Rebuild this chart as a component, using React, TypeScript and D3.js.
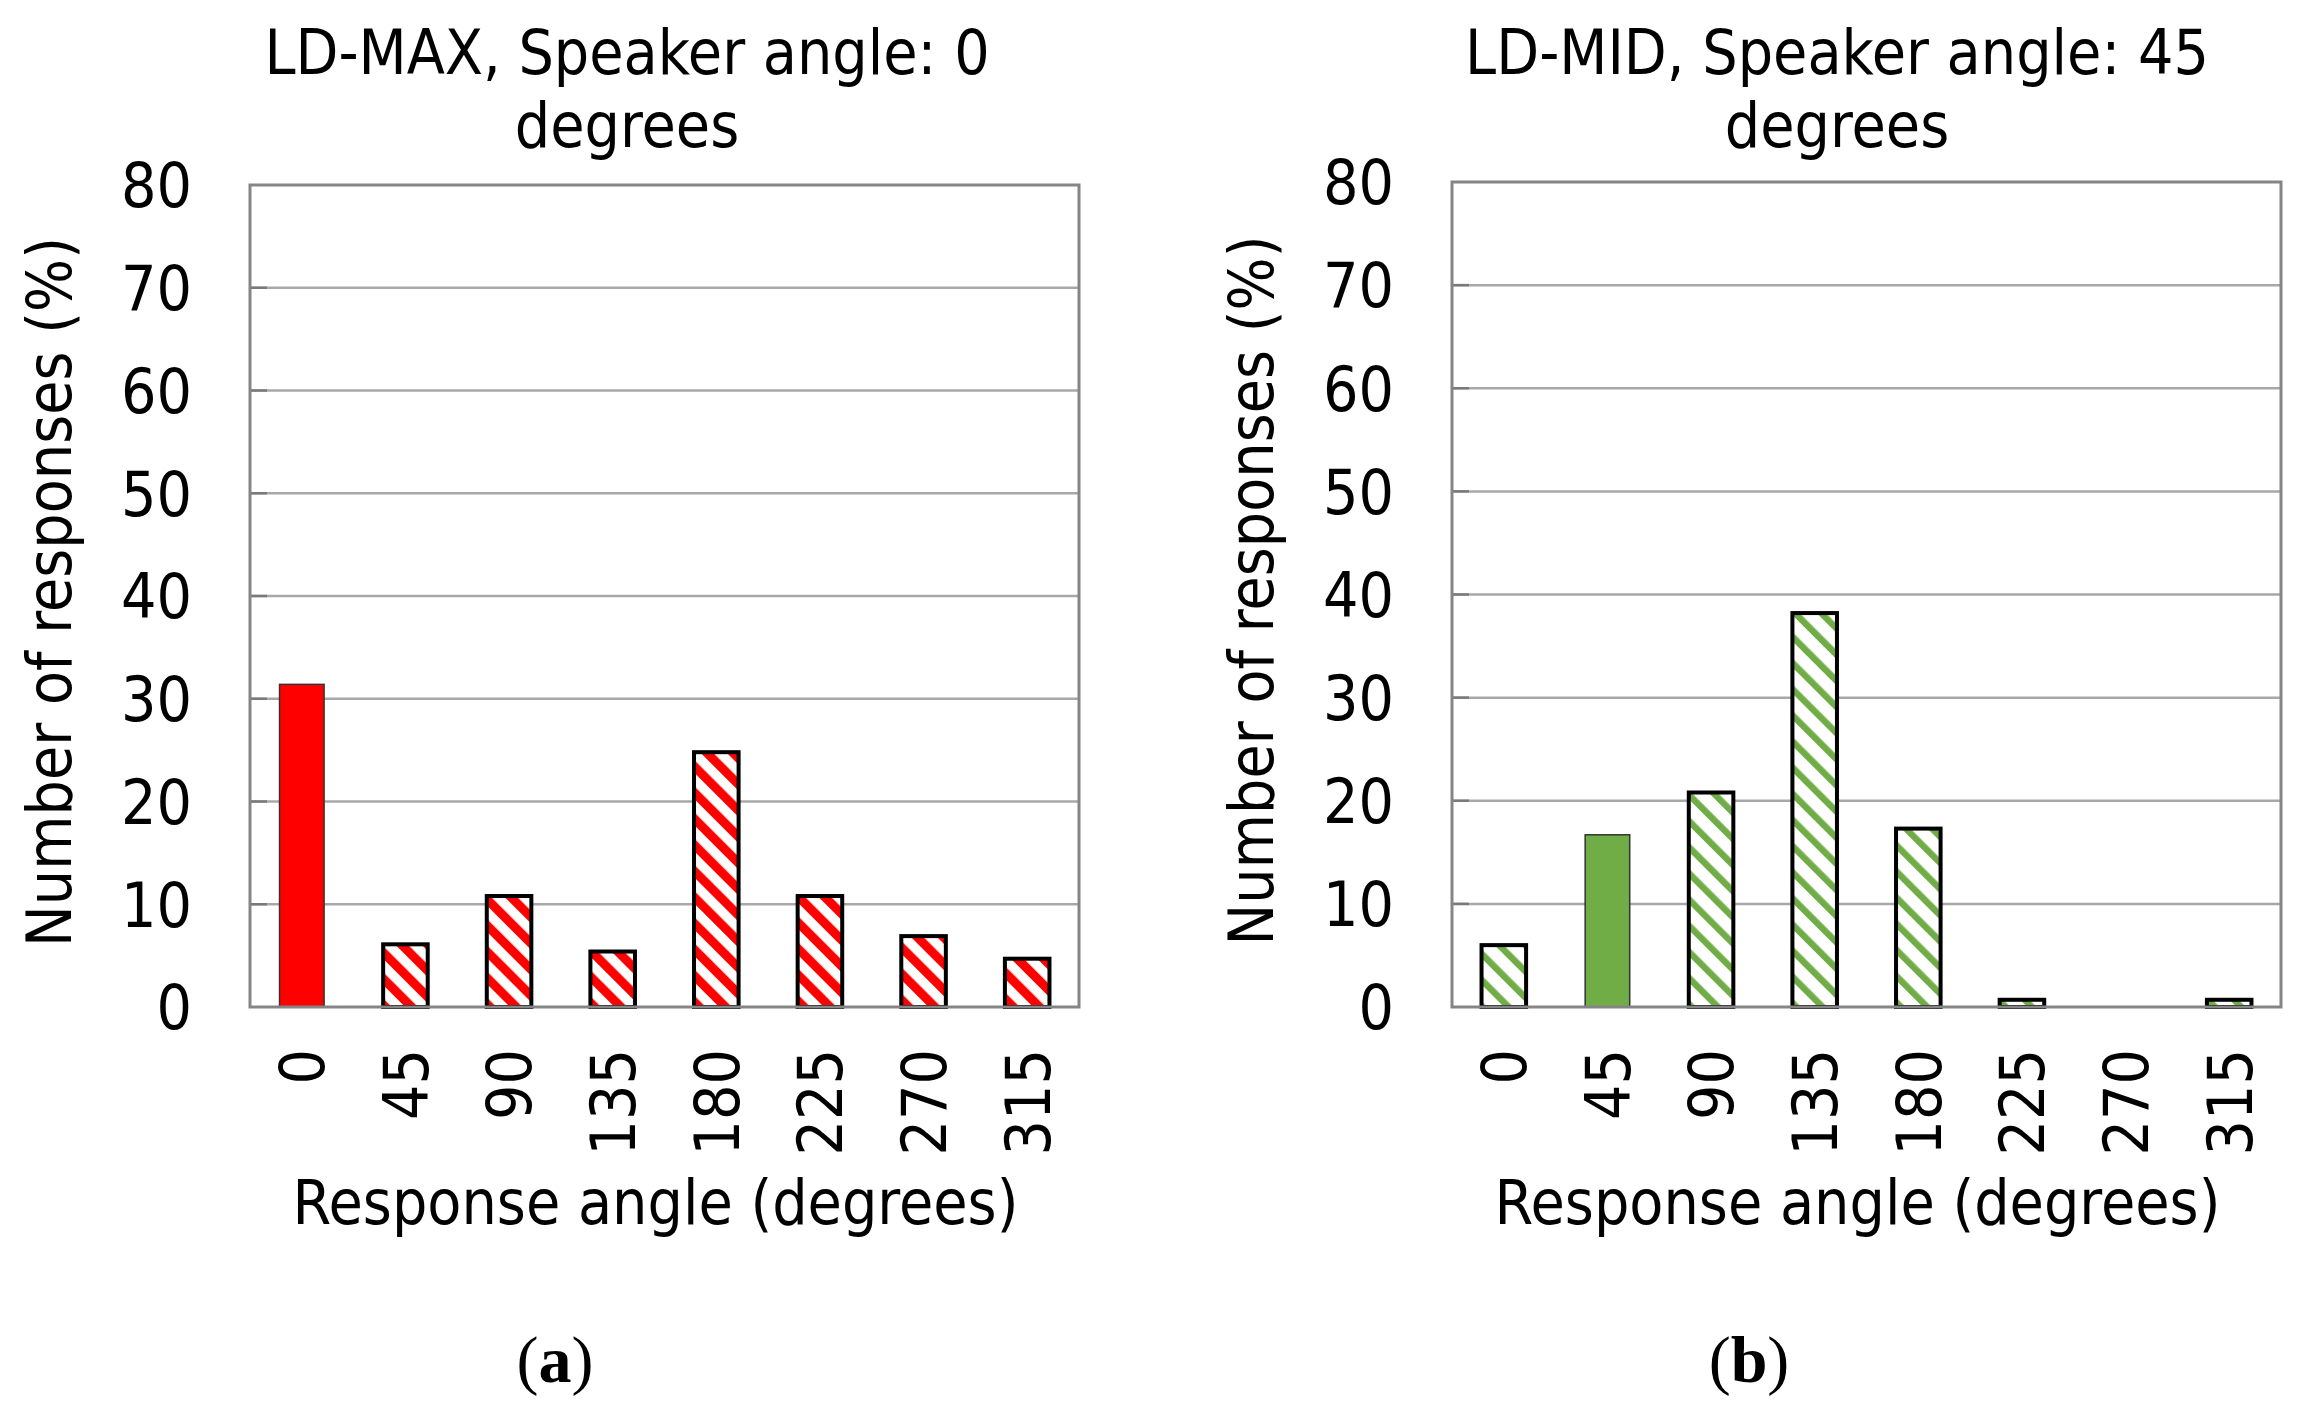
import React from "react";
import * as d3 from "d3";

const categories = ["0", "45", "90", "135", "180", "225", "270", "315"];
const valuesA = [31.4, 6.1, 10.8, 5.4, 24.8, 10.8, 6.9, 4.7];
const valuesB = [6.0, 16.7, 20.8, 38.2, 17.3, 0.7, 0, 0.7];
const solidA = "0";
const solidB = "45";
const titleA = ["LD-MAX, Speaker angle: 0", "degrees"];
const titleB = ["LD-MID, Speaker angle: 45", "degrees"];
const yTicks = [0, 10, 20, 30, 40, 50, 60, 70, 80];
const xLabel = "Response angle (degrees)";
const yLabel = "Number of responses (%)";

const FONT = '"DejaVu Sans Condensed", "DejaVu Sans", sans-serif';
const FS = 62;
const PERIOD = 18.5;

type PanelProps = {
  id: string;
  left: number;
  right: number;
  top: number;
  bottom: number;
  values: number[];
  solid: string;
  color: string;
  stripeW: number;
  title: string[];
  titleX: number;
  tag: string;
  tagX: number;
};

function Panel(p: PanelProps) {
  const x = d3
    .scaleBand<string>()
    .domain(categories)
    .range([p.left, p.right])
    .paddingInner(0.57)
    .paddingOuter(0.285);
  const y = d3.scaleLinear().domain([0, 80]).range([p.bottom, p.top]);
  const cx = (p.left + p.right) / 2;
  const cy = (p.top + p.bottom) / 2;
  const patId = `hatch-${p.id}`;
  return (
    <g>
      <defs>
        <pattern
          id={patId}
          patternUnits="userSpaceOnUse"
          width={PERIOD}
          height={PERIOD}
          patternTransform="rotate(-45)"
        >
          <rect x={0} y={0} width={PERIOD} height={PERIOD} fill="#ffffff" />
          <rect x={0} y={0} width={p.stripeW} height={PERIOD} fill={p.color} />
        </pattern>
      </defs>
      {p.title.map((t, i) => (
        <text
          key={i}
          x={p.titleX}
          y={74 + i * 73}
          textAnchor="middle"
          fontFamily={FONT}
          fontSize={FS}
          fill="#000"
        >
          {t}
        </text>
      ))}
      <rect x={p.left} y={p.top} width={p.right - p.left} height={p.bottom - p.top} fill="#fff" />
      {yTicks
        .filter((v) => v > 0 && v < 80)
        .map((v) => (
          <g key={v}>
            <line x1={p.left} x2={p.right} y1={y(v)} y2={y(v)} stroke="#a8a8a8" strokeWidth={2.5} />
            <line x1={p.left} x2={p.left + 17} y1={y(v)} y2={y(v)} stroke="#7a7a7a" strokeWidth={2.5} />
          </g>
        ))}
      {yTicks.map((v) => (
        <text
          key={v}
          x={p.left - 58}
          y={y(v)}
          dy="0.36em"
          textAnchor="end"
          fontFamily={FONT}
          fontSize={FS}
          fill="#000"
        >
          {v}
        </text>
      ))}
      {categories.map((c, i) => {
        const v = p.values[i];
        if (v <= 0) return null;
        const isSolid = c === p.solid;
        const bx = x(c) as number;
        const bw = x.bandwidth();
        const by = y(v);
        return (
          <rect
            key={c}
            x={bx}
            y={by}
            width={bw}
            height={p.bottom - by}
            fill={isSolid ? p.color : `url(#${patId})`}
            stroke={isSolid ? "#333" : "#000"}
            strokeWidth={isSolid ? 1.5 : 4}
          />
        );
      })}
      <rect
        x={p.left}
        y={p.top}
        width={p.right - p.left}
        height={p.bottom - p.top}
        fill="none"
        stroke="#858585"
        strokeWidth={3}
      />
      {categories.map((c) => {
        const tx = (x(c) as number) + x.bandwidth() / 2;
        const ty = p.bottom + 42;
        return (
          <text
            key={c}
            transform={`translate(${tx},${ty}) rotate(-90)`}
            textAnchor="end"
            dy="0.36em"
            fontFamily={FONT}
            fontSize={FS}
            fill="#000"
          >
            {c}
          </text>
        );
      })}
      <text x={cx - 9} y={1224} textAnchor="middle" fontFamily={FONT} fontSize={FS} fill="#000">
        {xLabel}
      </text>
      <text
        transform={`translate(${p.left - 201},${cy - 4}) rotate(-90)`}
        textAnchor="middle"
        dy="0.36em"
        fontFamily={FONT}
        fontSize={FS}
        fill="#000"
      >
        {yLabel}
      </text>
      <text
        x={p.tagX}
        y={1382}
        textAnchor="middle"
        fontFamily='"Liberation Serif", "DejaVu Serif", serif'
        fontSize={66}
        fill="#000"
      >
        <tspan>(</tspan>
        <tspan fontWeight="bold">{p.tag}</tspan>
        <tspan>)</tspan>
      </text>
    </g>
  );
}

export default function App() {
  return (
    <svg
      width={2304}
      height={1412}
      viewBox="0 0 2304 1412"
      style={{ position: "absolute", left: 0, top: 0, background: "#fff", fontStretch: "condensed" }}
    >
      <rect x={0} y={0} width={2304} height={1412} fill="#fff" />
      <Panel
        id="a"
        left={250}
        right={1079}
        top={185}
        bottom={1007}
        values={valuesA}
        solid={solidA}
        color="#ff0000"
        stripeW={9}
        title={titleA}
        titleX={627}
        tag="a"
        tagX={555}
      />
      <Panel
        id="b"
        left={1452}
        right={2281}
        top={182}
        bottom={1007}
        values={valuesB}
        solid={solidB}
        color="#70ad47"
        stripeW={6.5}
        title={titleB}
        titleX={1837}
        tag="b"
        tagX={1749}
      />
    </svg>
  );
}
